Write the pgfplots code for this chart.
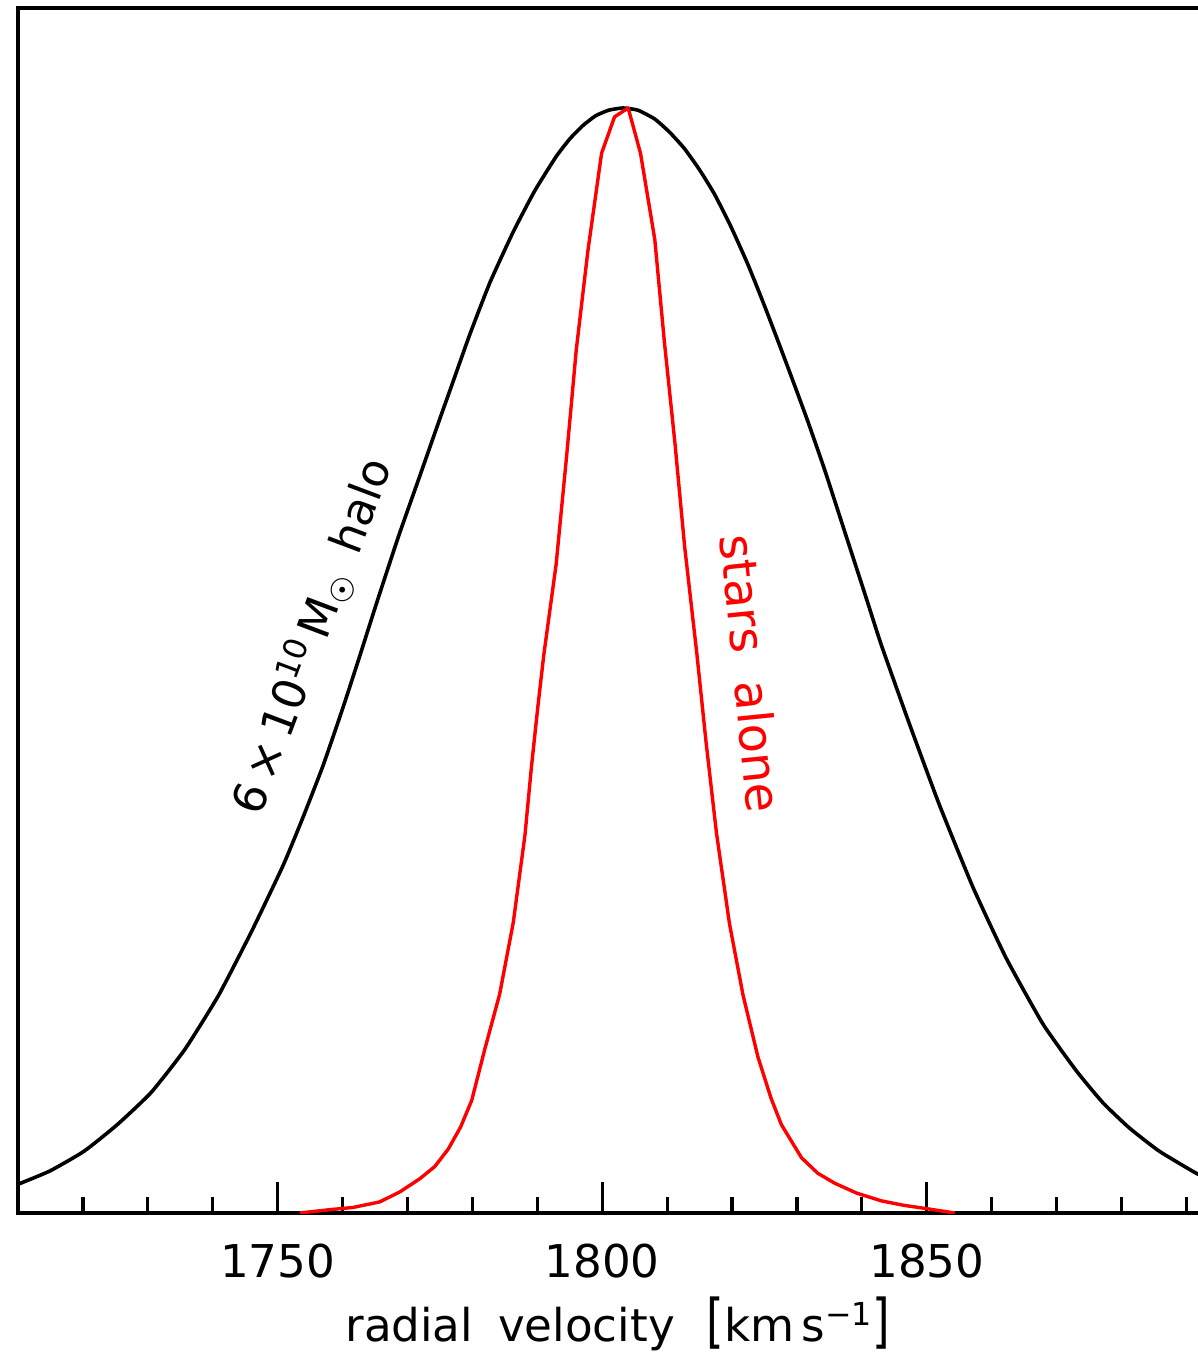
\documentclass[border=0pt]{standalone}
\usepackage{pgfplots}
\pgfplotsset{compat=1.18}
\usepackage{graphicx}
\usepackage{fontspec}
\setmainfont{DejaVu Sans}
\pgfplotstableread{
v y
1710.0 0.026
1714.9 0.038
1720.2 0.056
1725.3 0.080
1730.5 0.109
1735.7 0.148
1740.9 0.197
1746.0 0.255
1750.8 0.314
1753.9 0.358
1757.0 0.405
1760.1 0.458
1762.7 0.505
1765.3 0.553
1768.6 0.612
1771.9 0.667
1775.0 0.719
1777.0 0.752
1779.6 0.795
1782.7 0.842
1786.3 0.888
1789.6 0.925
1792.9 0.956
1795.0 0.972
1797.0 0.984
1799.0 0.993
1801.0 0.998
1803.2 1.000
1805.5 0.998
1808.1 0.990
1810.4 0.978
1812.7 0.963
1815.0 0.944
1817.3 0.922
1819.8 0.893
1822.4 0.859
1825.0 0.821
1827.6 0.781
1829.7 0.748
1831.7 0.716
1834.3 0.672
1837.5 0.614
1840.7 0.556
1843.0 0.514
1847.3 0.443
1851.9 0.370
1857.1 0.295
1862.2 0.231
1867.9 0.171
1873.0 0.129
1877.1 0.100
1881.2 0.077
1885.8 0.056
1891.5 0.036
1894.0 0.030
}\halo
\pgfplotstableread{
v y
1753.4 0.0
1758.0 0.003
1761.6 0.005
1765.7 0.010
1768.8 0.019
1771.9 0.031
1774.2 0.042
1776.3 0.058
1778.2 0.078
1779.9 0.102
1781.9 0.148
1784.2 0.198
1786.3 0.263
1788.1 0.342
1789.1 0.404
1790.1 0.459
1791.0 0.505
1792.9 0.587
1794.5 0.684
1796.0 0.781
1797.8 0.871
1799.9 0.959
1801.9 0.992
1804.0 1.000
1805.9 0.959
1808.1 0.881
1809.6 0.787
1811.2 0.697
1812.7 0.603
1814.6 0.505
1816.0 0.426
1817.6 0.344
1819.6 0.262
1821.7 0.197
1824.0 0.141
1826.0 0.104
1827.6 0.080
1830.7 0.050
1833.2 0.036
1835.8 0.027
1839.2 0.018
1843.0 0.011
1846.4 0.007
1849.9 0.004
1854.3 0.0
}\stars
\begin{document}
\fontsize{22.6}{27}\selectfont
\begin{tikzpicture}
\useasboundingbox (-9pt,-73.5pt) rectangle (590pt,606.5pt);
\begin{axis}[
  at={(0pt,0pt)}, anchor=south west,
  scale only axis, width=592pt, height=602.5pt,
  xmin=1710, xmax=1892.4, ymin=0, ymax=1.0905,
  axis line style={line width=2pt},
  xtick={1750,1800,1850},
  minor xtick={1710,1720,...,1890},
  ytick=\empty,
  xtick pos=bottom,
  tick align=inside,
  major tick length=15.5pt,
  minor tick length=8pt,
  every tick/.style={black, line width=1.6pt},
  /pgf/number format/assume math mode=true,
  /pgf/number format/1000 sep={},
  xticklabel style={font=\fontsize{22.6}{27}\selectfont, anchor=base, yshift=-32pt},
  xlabel={radial\hspace{0.55em}velocity\hspace{0.7em}\scalebox{1}[1.3]{[}km\,s\textsuperscript{−1}\scalebox{1}[1.3]{]}},
  every axis x label/.style={at={(axis description cs:0.5,0)}, anchor=base, xshift=4pt, yshift=-64pt, font=\fontsize{22.6}{27}\selectfont},
  clip=true,
]
\addplot[black, line width=1.8pt, smooth, tension=0.3] table[x=v,y=y] {\halo};
\addplot[red, line width=1.7pt, line join=round] table[x=v,y=y] {\stars};
\node[rotate=69.4, black, font=\fontsize{22.6}{27}\selectfont] at (axis cs:1755.4,0.522) {6\,×\,10\textsuperscript{10}\,M\textsubscript{☉}\enspace halo};
\node[rotate=-84.3, red, font=\fontsize{24}{28}\selectfont] at (axis cs:1823.0,0.488) {stars\hspace{0.6em}alone};
\end{axis}
\end{tikzpicture}
\end{document}
